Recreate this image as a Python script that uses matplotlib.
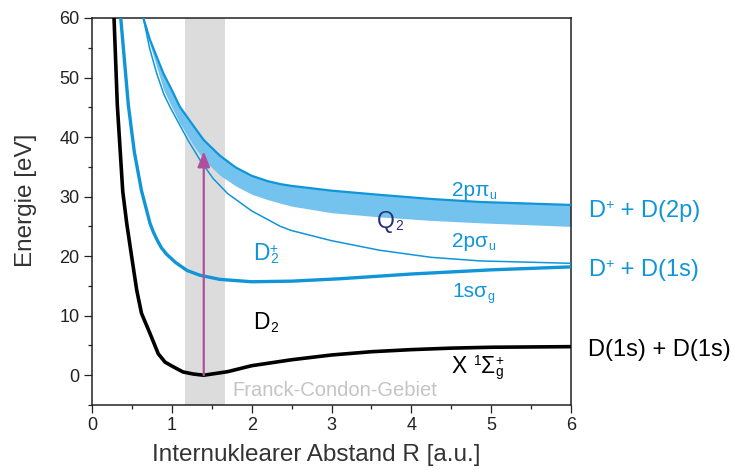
import matplotlib
matplotlib.use("Agg")
import matplotlib.pyplot as plt
from matplotlib.ticker import MultipleLocator

plt.rcParams['font.family'] = ['Liberation Sans', 'DejaVu Sans']

# ---- data ----
R_d2 = [0.276, 0.317, 0.385, 0.435, 0.497, 0.56, 0.62, 0.727, 0.83, 0.915, 1.02,
        1.14, 1.27, 1.4, 1.7, 2.0, 2.5, 3.0, 3.5, 4.0, 4.5, 5.0, 6.0]
E_d2 = [60, 45.4, 30.9, 25.5, 19.9, 14.3, 10.4, 7.0, 3.6, 2.2, 1.4,
        0.55, 0.2, 0.0, 0.6, 1.6, 2.6, 3.4, 3.95, 4.3, 4.55, 4.7, 4.8]

R_1s = [0.36, 0.455, 0.53, 0.62, 0.727, 0.77, 0.82, 0.87, 0.936, 1.05, 1.19,
        1.35, 1.6, 2.0, 2.5, 3.1, 4.0, 5.0, 6.0]
E_1s = [60, 45.4, 37.5, 31.0, 25.5, 24.0, 22.6, 21.4, 20.3, 18.9, 17.6,
        16.8, 16.1, 15.7, 15.8, 16.2, 17.0, 17.7, 18.2]

R_2ps = [0.643, 0.72, 0.81, 0.9, 0.98, 1.1, 1.21, 1.36, 1.52, 1.7, 2.0,
         2.36, 2.5, 3.0, 3.6, 4.25, 4.86, 6.0]
E_2ps = [60, 55.0, 50.7, 47.2, 45.0, 42.0, 39.3, 36.0, 33.0, 30.5, 27.6,
         25.0, 24.3, 22.6, 21.0, 19.8, 19.2, 18.8]

R_band = [0.643, 0.727, 0.894, 1.0, 1.10, 1.27, 1.40, 1.6, 1.8, 2.0, 2.2,
          2.36, 2.5, 3.0, 3.6, 4.25, 4.86, 6.0]
E_2pp = [60, 56.3, 50.7, 47.9, 45.1, 41.9, 39.5, 36.9, 34.9, 33.5, 32.6,
         32.1, 31.8, 31.0, 30.3, 29.6, 29.1, 28.6]
E_band_low = [60, 55.5, 48.0, 45.0, 42.3, 38.6, 36.2, 33.6, 31.8, 30.4, 29.5,
              28.9, 28.4, 27.3, 26.6, 26.0, 25.6, 25.0]

fc_region = [1.16, 1.66]
arrow_x = 1.4
arrow_y = [0.0, 37.6]

x_ticks = [0, 1, 2, 3, 4, 5, 6]
y_ticks = [0, 10, 20, 30, 40, 50, 60]

BLUE = '#0f95d8'
FILL = '#74c3ee'
MAG = '#b0509c'

fig = plt.figure(figsize=(7.34, 4.70), dpi=100)
ax = fig.add_axes([92/734, 1-405/470, (571-92)/734, (405-18)/470])
renderer = fig.canvas.get_renderer()

ax.axvspan(fc_region[0], fc_region[1], color='#dcdcdc', lw=0, zorder=0)

ax.fill_between(R_band, E_band_low, E_2pp, color=FILL, lw=0, zorder=1)
ax.plot(R_band, E_2pp, color=BLUE, lw=1.6, zorder=3)
ax.plot(R_2ps, E_2ps, color=BLUE, lw=1.1, zorder=3)
ax.plot(R_1s, E_1s, color=BLUE, lw=2.4, zorder=3)
ax.plot(R_d2, E_d2, color='black', lw=2.6, zorder=3)

ax.annotate('', xy=(arrow_x, arrow_y[1]), xytext=(arrow_x, arrow_y[0]),
            arrowprops=dict(arrowstyle='-|>,head_length=0.55,head_width=0.22',
                            color=MAG, lw=1.6, mutation_scale=17,
                            shrinkA=0, shrinkB=0), zorder=4)

ax.set_xlim(0, 6)
ax.set_ylim(-5, 60)
ax.set_xticks(x_ticks)
ax.set_yticks(y_ticks)
ax.xaxis.set_minor_locator(MultipleLocator(0.5))
ax.yaxis.set_minor_locator(MultipleLocator(5))
ax.tick_params(which='major', direction='out', length=5.5, width=0.9,
               labelsize=13, colors='#222222', top=False, right=False)
ax.tick_params(which='minor', direction='out', length=2.8, width=0.9,
               colors='#222222', top=False, right=False)
ax.tick_params(axis='x', pad=3)
for s in ax.spines.values():
    s.set_color('#222222')
    s.set_linewidth(1.1)

ax.set_xlabel('Internuklearer Abstand R [a.u.]', fontsize=17.5, color='#333333')
ax.set_ylabel('Energie [eV]', fontsize=17.5, color='#333333')
ax.xaxis.set_label_coords(0.468, -38.5/387, transform=ax.transAxes)
ax.yaxis.set_label_coords(-55/479, 0.53, transform=ax.transAxes)


def rich(x, y, segments, size, color):
    """segments: list of (text, kind, advance); kind in 'n','sub','sup'."""
    off = 0.0      # pixels
    pending = 0.0
    for txt, kind, adv in segments:
        if kind == 'n':
            fs, dy = size, 0.0
        elif kind == 'sub':
            fs, dy = size * 0.6, -size * 0.12
        else:
            fs, dy = size * 0.6, size * 0.34
        t = ax.annotate(txt, xy=(x, y), xycoords='data',
                        xytext=(off * 72 / 100, dy), textcoords='offset points',
                        fontsize=fs, color=color, ha='left', va='baseline',
                        annotation_clip=False, zorder=5)
        w = t.get_window_extent(renderer).width
        pending = max(pending, w)
        if adv:
            off += pending
            pending = 0.0


rich(4.51, 30.1, [('2pπ', 'n', True), ('u', 'sub', True)], 15, BLUE)
rich(4.51, 21.5, [('2pσ', 'n', True), ('u', 'sub', True)], 15, BLUE)
rich(4.52, 13.1, [('1sσ', 'n', True), ('g', 'sub', True)], 15, BLUE)
rich(3.57, 24.8, [('Q', 'n', True), ('2', 'sub', True)], 16.5, '#27307a')
rich(2.02, 19.3, [('D', 'n', True), ('2', 'sub', False), ('+', 'sup', True)], 16.5, BLUE)
rich(2.02, 7.7, [('D', 'n', True), ('2', 'sub', True)], 16.5, 'black')
rich(4.51, 0.4, [('X ', 'n', True), ('1', 'sup', True), ('Σ', 'n', True),
                 ('g', 'sub', False), ('+', 'sup', True)], 16.5, 'black')
ax.text(1.755, -3.5, 'Franck-Condon-Gebiet', color='#c4c4c4', fontsize=14.5,
        ha='left', va='baseline')

rich(6.215, 26.6, [('D', 'n', True), ('+', 'sup', True), (' + D(2p)', 'n', True)], 17, BLUE)
rich(6.215, 16.6, [('D', 'n', True), ('+', 'sup', True), (' + D(1s)', 'n', True)], 17, BLUE)
rich(6.215, 3.2, [('D(1s) + D(1s)', 'n', True)], 17, 'black')

fig.savefig('out.png', dpi=100)
